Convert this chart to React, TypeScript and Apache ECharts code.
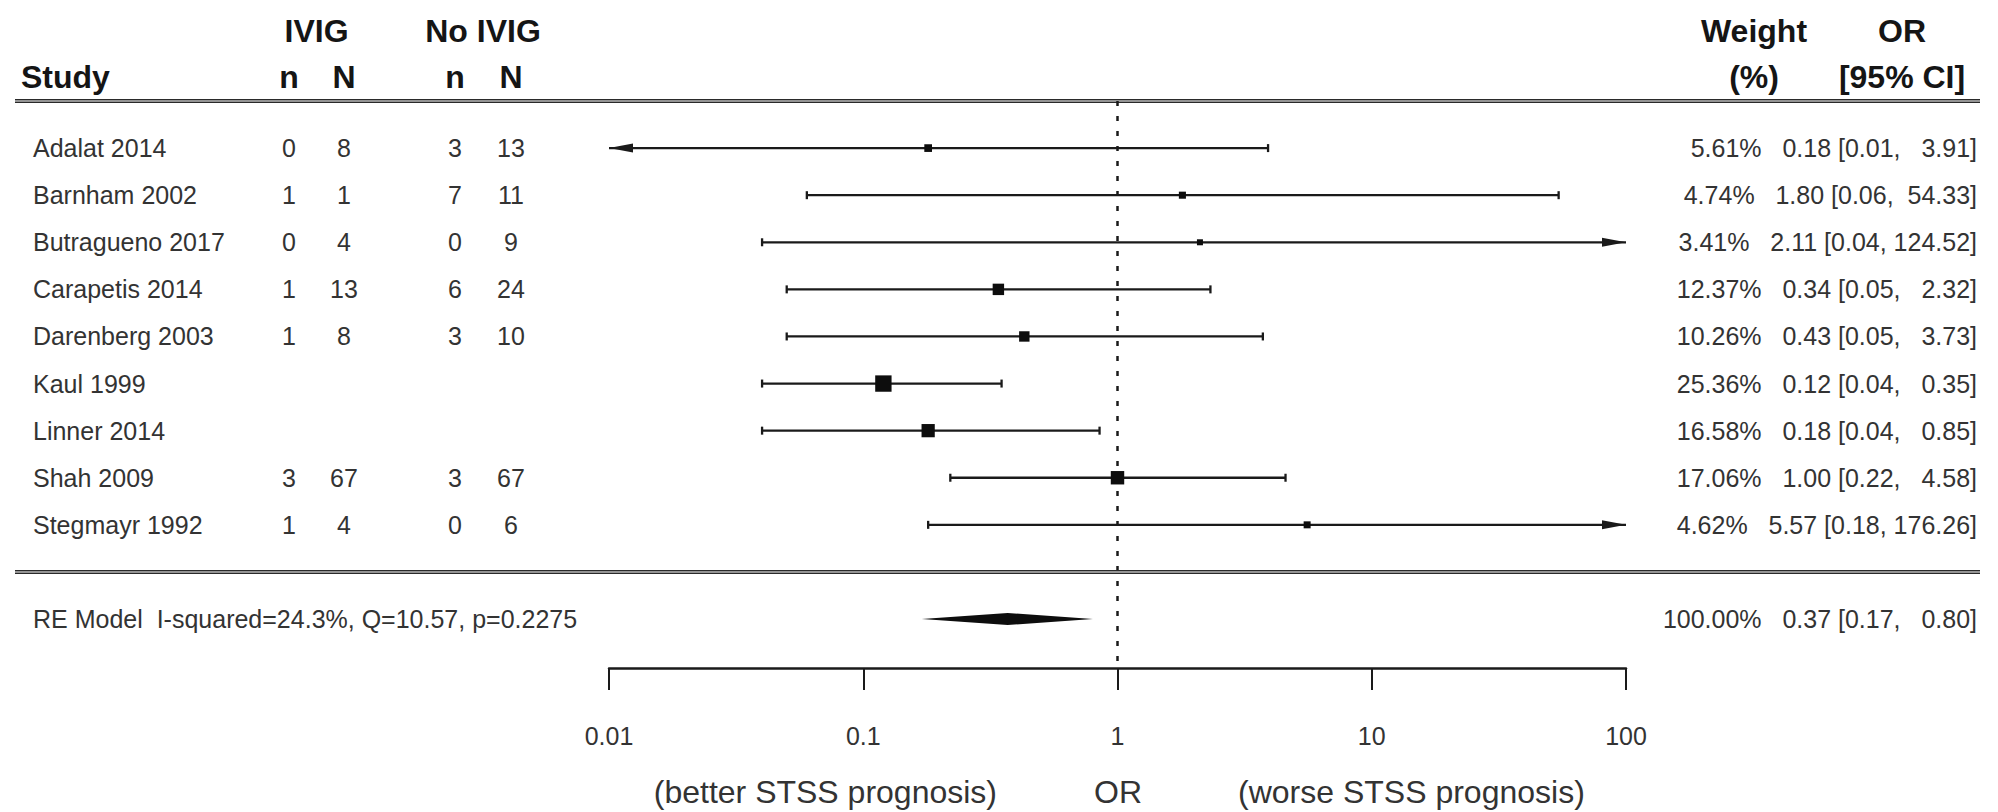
import React, { useEffect, useRef } from "react";
import * as echarts from "echarts";

// ---------------- data ----------------
const studies = [
  "Adalat 2014",
  "Barnham 2002",
  "Butragueno 2017",
  "Carapetis 2014",
  "Darenberg 2003",
  "Kaul 1999",
  "Linner 2014",
  "Shah 2009",
  "Stegmayr 1992",
];
const ivigEvents = ["0", "1", "0", "1", "1", "", "", "3", "1"];
const ivigTotals = ["8", "1", "4", "13", "8", "", "", "67", "4"];
const noIvigEvents = ["3", "7", "0", "6", "3", "", "", "3", "0"];
const noIvigTotals = ["13", "11", "9", "24", "10", "", "", "67", "6"];
const weights = [5.61, 4.74, 3.41, 12.37, 10.26, 25.36, 16.58, 17.06, 4.62];
const oddsRatios = [0.18, 1.8, 2.11, 0.34, 0.43, 0.12, 0.18, 1.0, 5.57];
const ciLower = [0.01, 0.06, 0.04, 0.05, 0.05, 0.04, 0.04, 0.22, 0.18];
const ciUpper = [3.91, 54.33, 124.52, 2.32, 3.73, 0.35, 0.85, 4.58, 176.26];

const summaryLabel = "RE Model  I-squared=24.3%, Q=10.57, p=0.2275";
const summaryWeight = [100.0];
const summaryOR = [0.37];
const summaryLower = [0.17];
const summaryUpper = [0.8];

const tickLabels = ["0.01", "0.1", "1", "10", "100"];
const xLabelLeft = "(better STSS prognosis)";
const xLabelMid = "OR";
const xLabelRight = "(worse STSS prognosis)";

// ---------------- layout / style ----------------
const AX_MIN = 0.01;
const AX_MAX = 100;
const Y_MIN = -2.04;
const Y_MAX = 10;
const FONT = "'Liberation Sans', Arial, Helvetica, sans-serif";
const NB = "\u00A0";
const TEXT_COLOR = "#333";
const HEAD_COLOR = "#151515";
const LINE_COLOR = "#1a1a1a";
const BODY_SIZE = 25;
const XLAB_SIZE = 32;

const rows = studies.map((_, i) => studies.length - i);
const SUMMARY_ROW = -1;

const COL_NAME = 33;
const COL_IVIG_n = 289;
const COL_IVIG_N = 344;
const COL_NO_n = 455;
const COL_NO_N = 511;
const COL_RIGHT = 1977;

function f2(v: number) {
  return v.toFixed(2);
}
function annotation(w: number, est: number, lo: number, hi: number) {
  const hiS = f2(hi);
  const pad = NB.repeat(Math.max(0, 6 - hiS.length));
  return `${f2(w)}%${NB}${NB}${NB}${f2(est)}${NB}[${f2(lo)},${NB}${pad}${hiS}]`;
}

function txt(x: number, y: number, text: string, align: string, extra: any = {}) {
  return {
    type: "text",
    x,
    y,
    silent: true,
    style: {
      text,
      fontSize: BODY_SIZE,
      fontFamily: FONT,
      fill: TEXT_COLOR,
      align,
      textAlign: align,
      verticalAlign: "middle",
      textVerticalAlign: "middle",
      ...extra,
    },
  };
}

function headText(x: number, y: number, text: string, align: string) {
  return txt(x, y, text, align, { fontSize: 32, fontWeight: "bold", fill: HEAD_COLOR });
}

const option: any = {
  animation: false,
  backgroundColor: "#ffffff",
  textStyle: { fontFamily: FONT },
  grid: { left: 609, right: 1998 - 1626, top: 101, bottom: 812 - 668, containLabel: false },
  xAxis: {
    type: "log",
    logBase: 10,
    min: AX_MIN,
    max: AX_MAX,
    position: "bottom",
    axisLine: { show: true, onZero: false, lineStyle: { color: LINE_COLOR, width: 2.5 } },
    axisTick: { show: true, inside: false, length: 22, lineStyle: { color: LINE_COLOR, width: 2 } },
    minorTick: { show: false },
    splitLine: { show: false },
    axisLabel: {
      show: true,
      margin: 55,
      fontSize: BODY_SIZE,
      lineHeight: BODY_SIZE,
      fontFamily: FONT,
      color: TEXT_COLOR,
      formatter: (v: number) => tickLabels[Math.round(Math.log10(v)) + 2] ?? "",
    },
  },
  yAxis: { type: "value", min: Y_MIN, max: Y_MAX, show: false },
  graphic: [
    headText(21, 77, "Study", "left"),
    headText((COL_IVIG_n + COL_IVIG_N) / 2, 31, "IVIG", "center"),
    headText((COL_NO_n + COL_NO_N) / 2, 31, "No IVIG", "center"),
    headText(COL_IVIG_n, 77, "n", "center"),
    headText(COL_IVIG_N, 77, "N", "center"),
    headText(COL_NO_n, 77, "n", "center"),
    headText(COL_NO_N, 77, "N", "center"),
    headText(1754, 31, "Weight", "center"),
    headText(1754, 77, "(%)", "center"),
    headText(1902, 31, "OR", "center"),
    headText(1902, 77, "[95% CI]", "center"),
    txt(997, 792, xLabelLeft, "right", { fontSize: XLAB_SIZE }),
    txt(1118, 792, xLabelMid, "center", { fontSize: XLAB_SIZE }),
    txt(1238, 792, xLabelRight, "left", { fontSize: XLAB_SIZE }),
  ],
  series: [
    // horizontal rules + reference line
    {
      type: "custom",
      coordinateSystem: "cartesian2d",
      clip: false,
      silent: true,
      data: [[1, 10], [1, 0]],
      encode: { x: 0, y: 1 },
      renderItem: (params: any, api: any) => {
        const y = api.coord([1, api.value(1)])[1];
        const children: any[] = [
          { type: "line", shape: { x1: 15, y1: y - 1.3, x2: 1980, y2: y - 1.3 }, style: { stroke: "#2a2a2a", lineWidth: 1.5 } },
          { type: "line", shape: { x1: 15, y1: y + 1.3, x2: 1980, y2: y + 1.3 }, style: { stroke: "#2a2a2a", lineWidth: 1.5 } },
        ];
        if (params.dataIndex === 0) {
          const [xr, yt] = api.coord([1, 10]);
          const yb = api.coord([1, Y_MIN])[1];
          children.push({
            type: "line",
            shape: { x1: xr, y1: yt, x2: xr, y2: yb },
            style: { stroke: LINE_COLOR, lineWidth: 2.5, lineDash: [5, 10] },
          });
        }
        return { type: "group", children };
      },
    },
    // study CIs and squares
    {
      type: "custom",
      coordinateSystem: "cartesian2d",
      clip: false,
      silent: true,
      data: studies.map((_, i) => [oddsRatios[i], rows[i], ciLower[i], ciUpper[i], weights[i]]),
      encode: { x: 0, y: 1 },
      renderItem: (params: any, api: any) => {
        const est = api.value(0);
        const row = api.value(1);
        const lo = api.value(2);
        const hi = api.value(3);
        const w = api.value(4);
        const [xl, y] = api.coord([Math.max(lo, AX_MIN), row]);
        const xh = api.coord([Math.min(hi, AX_MAX), row])[0];
        const xe = api.coord([est, row])[0];
        const ls = { stroke: LINE_COLOR, lineWidth: 2.3 };
        const children: any[] = [{ type: "line", shape: { x1: xl, y1: y, x2: xh, y2: y }, style: ls }];
        if (lo <= AX_MIN) {
          children.push({ type: "polygon", shape: { points: [[xl, y], [xl + 24, y - 4.5], [xl + 24, y + 4.5]] }, style: { fill: LINE_COLOR } });
        } else {
          children.push({ type: "line", shape: { x1: xl, y1: y - 4, x2: xl, y2: y + 4 }, style: ls });
        }
        if (hi >= AX_MAX) {
          children.push({ type: "polygon", shape: { points: [[xh, y], [xh - 24, y - 4.5], [xh - 24, y + 4.5]] }, style: { fill: LINE_COLOR } });
        } else {
          children.push({ type: "line", shape: { x1: xh, y1: y - 4, x2: xh, y2: y + 4 }, style: ls });
        }
        const s = 3.25 * Math.sqrt(w);
        children.push({ type: "rect", shape: { x: xe - s / 2, y: y - s / 2, width: s, height: s }, style: { fill: "#0d0d0d" } });
        return { type: "group", children };
      },
    },
    // summary diamond
    {
      type: "custom",
      coordinateSystem: "cartesian2d",
      clip: false,
      silent: true,
      data: summaryOR.map((v, i) => [v, SUMMARY_ROW, summaryLower[i], summaryUpper[i]]),
      encode: { x: 0, y: 1 },
      renderItem: (params: any, api: any) => {
        const [xe, y] = api.coord([api.value(0), api.value(1)]);
        const xl = api.coord([api.value(2), api.value(1)])[0];
        const xh = api.coord([api.value(3), api.value(1)])[0];
        return {
          type: "polygon",
          shape: { points: [[xl, y], [xe, y - 6], [xh, y], [xe, y + 6]] },
          style: { fill: "#0d0d0d" },
        };
      },
    },
    // study table text
    {
      type: "custom",
      coordinateSystem: "cartesian2d",
      clip: false,
      silent: true,
      data: studies.map((_, i) => [1, rows[i]]),
      encode: { x: 0, y: 1 },
      renderItem: (params: any, api: any) => {
        const i = params.dataIndex;
        const y = api.coord([1, api.value(1)])[1];
        return {
          type: "group",
          children: [
            txt(COL_NAME, y, studies[i], "left"),
            txt(COL_IVIG_n, y, ivigEvents[i], "center"),
            txt(COL_IVIG_N, y, ivigTotals[i], "center"),
            txt(COL_NO_n, y, noIvigEvents[i], "center"),
            txt(COL_NO_N, y, noIvigTotals[i], "center"),
            txt(COL_RIGHT, y, annotation(weights[i], oddsRatios[i], ciLower[i], ciUpper[i]), "right"),
          ],
        };
      },
    },
    // summary text
    {
      type: "custom",
      coordinateSystem: "cartesian2d",
      clip: false,
      silent: true,
      data: [[1, SUMMARY_ROW]],
      encode: { x: 0, y: 1 },
      renderItem: (params: any, api: any) => {
        const y = api.coord([1, api.value(1)])[1];
        return {
          type: "group",
          children: [
            txt(COL_NAME, y, summaryLabel.replace(/  /g, NB + NB), "left"),
            txt(COL_RIGHT, y, annotation(summaryWeight[0], summaryOR[0], summaryLower[0], summaryUpper[0]), "right"),
          ],
        };
      },
    },
  ],
};

export default function App() {
  const ref = useRef<HTMLDivElement>(null);
  useEffect(() => {
    if (!ref.current) return;
    const chart = echarts.init(ref.current, null, { renderer: "svg" });
    chart.setOption(option);
    return () => chart.dispose();
  }, []);
  return (
    <div
      ref={ref}
      style={{ position: "fixed", left: 0, top: 0, width: 1998, height: 812, background: "#fff" }}
    />
  );
}
